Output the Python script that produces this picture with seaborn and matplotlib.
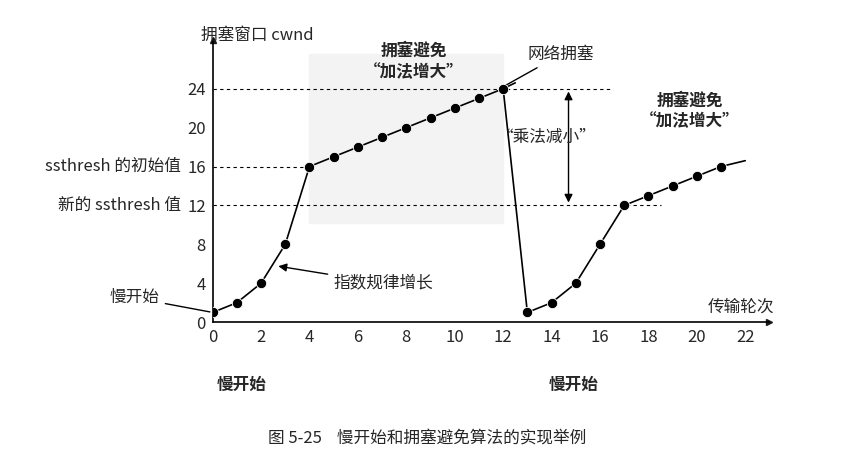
import matplotlib
matplotlib.use("Agg")
import matplotlib.pyplot as plt
import seaborn as sns
import pandas as pd

sns.set_theme(style="white")
plt.rcParams['font.family'] = ['Noto Sans CJK SC', 'DejaVu Sans']

rounds1 = list(range(0, 13))
cwnd1 = [1, 2, 4, 8, 16, 17, 18, 19, 20, 21, 22, 23, 24]
rounds2 = list(range(13, 22))
cwnd2 = [1, 2, 4, 8, 12, 13, 14, 15, 16]
xticks = [0, 2, 4, 6, 8, 10, 12, 14, 16, 18, 20, 22]
yticks = [0, 4, 8, 12, 16, 20, 24]

df = pd.DataFrame({"round": rounds1 + rounds2, "cwnd": cwnd1 + cwnd2})

fig = plt.figure(figsize=(8.54, 4.71), dpi=100)
ax = fig.add_axes([0.249, 0.316, 0.652, 0.599])
ax.axvspan(4, 12, ymin=0.35, ymax=0.95, color="#f3f3f3", zorder=0)
sns.lineplot(x=rounds1 + [12.5], y=cwnd1 + [24.6], ax=ax, color="black", lw=1.2)
ax.plot([12, 13], [24, 1], color="black", lw=1.2)
sns.lineplot(x=rounds2 + [22], y=cwnd2 + [16.6], ax=ax, color="black", lw=1.2)
sns.scatterplot(data=df, x="round", y="cwnd", ax=ax, color="black", s=55, zorder=5)

ax.set_xlim(0, 23)
ax.set_ylim(0, 29)
for s in ["top", "right"]:
    ax.spines[s].set_visible(False)
for s in ["left", "bottom"]:
    ax.spines[s].set_color("black")
    ax.spines[s].set_linewidth(1.2)
ax.plot(1, 0, ">k", transform=ax.get_yaxis_transform(), clip_on=False, ms=5)
ax.plot(0, 1, "^k", transform=ax.get_xaxis_transform(), clip_on=False, ms=5)
ax.set_xticks(xticks)
ax.set_yticks(yticks)
ax.tick_params(labelsize=12, length=0, pad=5)
ax.set_xlabel("")
ax.set_ylabel("")

ax.hlines(24, 0, 16.5, colors="black", linestyles=(0, (3, 3)), lw=0.8)
ax.hlines(16, 0, 4, colors="black", linestyles=(0, (3, 3)), lw=0.8)
ax.hlines(12, 0, 18.5, colors="black", linestyles=(0, (3, 3)), lw=0.8)

ax.annotate("", xy=(14.7, 24), xytext=(14.7, 12),
            arrowprops=dict(arrowstyle="<|-|>", color="black", lw=1))
ax.text(13.8, 19, "“乘法减小”", ha="center", va="center", fontsize=12)

ax.text(-1.3, 16, "ssthresh 的初始值", ha="right", va="center", fontsize=12)
ax.text(-1.3, 12, "新的 ssthresh 值", ha="right", va="center", fontsize=12)
ax.annotate("慢开始", xy=(0, 1), xytext=(-2.2, 2.5), ha="right", va="center", fontsize=12,
            arrowprops=dict(arrowstyle="-", color="black", lw=1))
ax.annotate("指数规律增长", xy=(2.6, 5.8), xytext=(5, 4), ha="left", va="center", fontsize=12,
            arrowprops=dict(arrowstyle="-|>", color="black", lw=1))
ax.annotate("网络拥塞", xy=(12, 24.2), xytext=(13, 27.5), ha="left", va="center", fontsize=12,
            arrowprops=dict(arrowstyle="-", color="black", lw=1))
ax.text(8.3, 26.8, "拥塞避免\n“加法增大”", ha="center", va="center", fontsize=12, fontweight="bold")
ax.text(19.7, 21.7, "拥塞避免\n“加法增大”", ha="center", va="center", fontsize=12, fontweight="bold")
ax.text(-0.5, 29.5, "拥塞窗口 cwnd", ha="left", va="center", fontsize=12)
ax.text(23.2, 1.5, "传输轮次", ha="right", va="center", fontsize=12)
ax.text(1.2, -6.5, "慢开始", ha="center", va="center", fontsize=12, fontweight="bold")
ax.text(14.9, -6.5, "慢开始", ha="center", va="center", fontsize=12, fontweight="bold")
fig.text(0.5, 0.07, "图 5-25    慢开始和拥塞避免算法的实现举例", ha="center", va="center", fontsize=12)

fig.savefig("out.png", dpi=100)
